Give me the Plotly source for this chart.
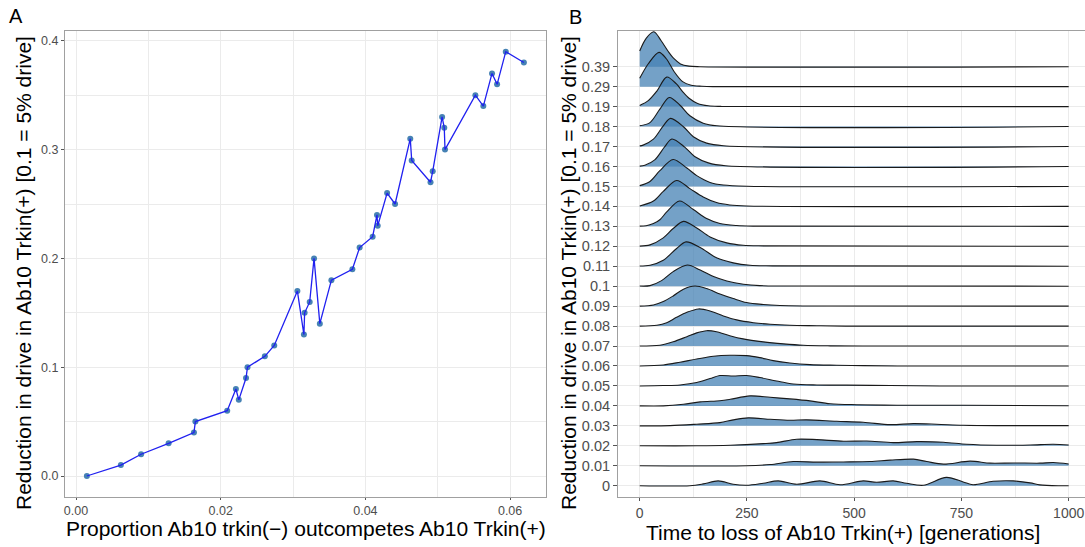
import plotly.graph_objects as go

# ---------------- Panel A data ----------------
prop_outcompete = [0.0015, 0.0062, 0.0090, 0.0128, 0.0163, 0.0165, 0.0209, 0.0221, 0.0225, 0.0235,
                   0.0237, 0.0261, 0.0274, 0.0306, 0.0315, 0.0316, 0.0323, 0.0329, 0.0337, 0.0353,
                   0.0382, 0.0392, 0.0410, 0.0416, 0.0417, 0.0430, 0.0441, 0.0462, 0.0464, 0.0490,
                   0.0493, 0.0506, 0.0509, 0.0510, 0.0552, 0.0563, 0.0575, 0.0582, 0.0594, 0.0619]
drive_reduction = [0.00, 0.01, 0.02, 0.03, 0.04, 0.05, 0.06, 0.08, 0.07, 0.09,
                   0.10, 0.11, 0.12, 0.17, 0.13, 0.15, 0.16, 0.20, 0.14, 0.18,
                   0.19, 0.21, 0.22, 0.24, 0.23, 0.26, 0.25, 0.31, 0.29, 0.27,
                   0.28, 0.33, 0.32, 0.30, 0.35, 0.34, 0.37, 0.36, 0.39, 0.38]
a_xticks = [0.00, 0.02, 0.04, 0.06]
a_xticklabels = ["0.00", "0.02", "0.04", "0.06"]
a_yticks = [0.0, 0.1, 0.2, 0.3, 0.4]
a_yticklabels = ["0.0", "0.1", "0.2", "0.3", "0.4"]

# ---------------- Panel B data (ridgelines, heights in ridge-spacing units) ----------------
ridge_labels = ["0", "0.01", "0.02", "0.03", "0.04", "0.05", "0.06", "0.07", "0.08", "0.09", "0.1",
                "0.11", "0.12", "0.13", "0.14", "0.15", "0.16", "0.17", "0.18", "0.19", "0.29", "0.39"]

ridge_time = {
    "0.39": [0, 15, 33, 50, 67, 80, 95, 115, 140, 1000],
    "0.29": [0, 20, 45, 62, 80, 100, 120, 145, 170, 1000],
    "0.19": [0, 20, 40, 63, 85, 100, 115, 135, 160, 190, 1000],
    "0.18": [0, 24, 47, 69, 94, 117, 148, 180, 1000],
    "0.17": [0, 8, 32, 55, 72, 102, 125, 156, 195, 1000],
    "0.16": [0, 12, 35, 58, 75, 105, 128, 160, 200, 1000],
    "0.15": [0, 24, 47, 78, 110, 133, 164, 195, 250, 1000],
    "0.14": [0, 32, 55, 86, 117, 148, 179, 210, 250, 1000],
    "0.13": [0, 15, 32, 47, 63, 93, 125, 156, 187, 226, 270, 1000],
    "0.12": [0, 24, 55, 78, 102, 133, 164, 203, 241, 290, 1000],
    "0.11": [0, 24, 55, 86, 108, 141, 179, 218, 257, 310, 1000],
    "0.1": [0, 24, 51, 78, 111, 141, 172, 203, 242, 280, 330, 1000],
    "0.09": [0, 32, 55, 78, 102, 129, 156, 187, 218, 249, 288, 327, 380, 1000],
    "0.08": [0, 40, 63, 86, 110, 137, 164, 195, 226, 265, 304, 350, 413, 480, 1000],
    "0.07": [0, 47, 78, 110, 133, 156, 179, 210, 241, 288, 335, 381, 444, 520, 1000],
    "0.06": [0, 55, 94, 133, 172, 210, 249, 280, 311, 350, 397, 459, 521, 600, 1000],
    "0.05": [0, 55, 94, 133, 164, 187, 218, 249, 280, 319, 358, 413, 482, 584, 700, 1000],
    "0.04": [0, 55, 102, 141, 187, 211, 257, 304, 350, 397, 444, 506, 600, 755, 1000],
    "0.03": [0, 71, 133, 187, 218, 253, 304, 350, 389, 459, 521, 584, 638, 692, 754, 832, 1000],
    "0.02": [0, 133, 211, 288, 319, 366, 413, 475, 529, 591, 646, 708, 762, 832, 910, 964, 1000],
    "0.01": [0, 249, 304, 358, 413, 475, 537, 584, 638, 669, 708, 770, 817, 871, 933, 964, 1000],
    "0": [0, 117, 148, 183, 218, 249, 288, 323, 366, 420, 467, 521, 552, 591, 622, 661, 715, 754,
          777, 824, 871, 910, 933, 980, 1000],
}
ridge_density = {
    "0.39": [0.79, 1.42, 1.75, 1.30, 0.75, 0.40, 0.14, 0.03, 0, 0],
    "0.29": [0.42, 1.15, 1.72, 1.40, 0.76, 0.25, 0.07, 0.02, 0, 0],
    "0.19": [0.06, 0.30, 0.78, 1.48, 1.15, 0.75, 0.42, 0.16, 0.04, 0.01, 0],
    "0.18": [0.04, 0.20, 0.87, 1.46, 1.07, 0.54, 0.17, 0.04, 0],
    "0.17": [0.03, 0.07, 0.37, 1.04, 1.41, 0.99, 0.49, 0.17, 0.04, 0],
    "0.16": [0.02, 0.06, 0.33, 0.98, 1.38, 0.97, 0.50, 0.18, 0.04, 0],
    "0.15": [0.04, 0.25, 0.79, 1.35, 0.92, 0.54, 0.20, 0.07, 0.01, 0],
    "0.14": [0.02, 0.27, 0.75, 1.30, 0.89, 0.47, 0.19, 0.07, 0.02, 0],
    "0.13": [0.01, 0.03, 0.14, 0.33, 0.72, 1.27, 0.84, 0.39, 0.14, 0.04, 0.01, 0],
    "0.12": [0.01, 0.07, 0.42, 0.89, 1.25, 0.92, 0.47, 0.17, 0.05, 0.02, 0],
    "0.11": [0.01, 0.05, 0.30, 0.89, 1.22, 0.94, 0.42, 0.17, 0.05, 0.02, 0],
    "0.1": [0.01, 0.03, 0.28, 0.73, 1.06, 0.81, 0.48, 0.26, 0.10, 0.03, 0.01, 0],
    "0.09": [0, 0.06, 0.23, 0.51, 0.85, 1.01, 0.88, 0.61, 0.38, 0.18, 0.08, 0.03, 0.01, 0],
    "0.08": [0, 0.04, 0.17, 0.44, 0.69, 0.86, 0.76, 0.51, 0.31, 0.17, 0.09, 0.04, 0.02, 0, 0],
    "0.07": [0, 0.04, 0.21, 0.47, 0.66, 0.77, 0.72, 0.52, 0.36, 0.21, 0.11, 0.04, 0.01, 0, 0],
    "0.06": [0, 0.05, 0.19, 0.35, 0.49, 0.54, 0.52, 0.42, 0.27, 0.15, 0.07, 0.04, 0.02, 0, 0],
    "0.05": [0, 0.02, 0.05, 0.17, 0.37, 0.52, 0.50, 0.52, 0.42, 0.25, 0.10, 0.05, 0.04, 0.02, 0, 0],
    "0.04": [0, 0, 0.08, 0.20, 0.26, 0.33, 0.50, 0.43, 0.35, 0.25, 0.11, 0.06, 0.03, 0.03, 0.01],
    "0.03": [0, 0.01, 0.08, 0.16, 0.30, 0.40, 0.33, 0.28, 0.30, 0.23, 0.18, 0.06, 0.11, 0.08, 0.03, 0.01, 0.01],
    "0.02": [0, 0, 0.03, 0.11, 0.16, 0.33, 0.31, 0.23, 0.24, 0.16, 0.21, 0.18, 0.08, 0.03, 0.04, 0.08, 0.04],
    "0.01": [0, 0, 0.06, 0.21, 0.18, 0.19, 0.21, 0.28, 0.33, 0.21, 0.08, 0.23, 0.13, 0.14, 0.13, 0.16, 0.09],
    "0": [0, 0, 0.09, 0.24, 0.07, 0.02, 0.12, 0.24, 0.07, 0.24, 0.05, 0.24, 0.17, 0.24, 0.12, 0.02,
          0.42, 0.19, 0.05, 0.22, 0.24, 0.14, 0.04, 0, 0],
}
b_xticks = [0, 250, 500, 750, 1000]

# ---------------- Figure ----------------
W, H = 1085, 547
FONT = "Liberation Sans, Arial, Helvetica, sans-serif"
GRID = "#ebebeb"
BORDER = "#a0a0a0"
TICKC = "#4d4d4d"
RIDGE_FILL = "rgba(70,130,180,0.75)"

fig = go.Figure()

# Panel A
fig.add_trace(go.Scatter(x=prop_outcompete, y=drive_reduction, mode="markers",
                         marker=dict(color="#4682b4", size=6), xaxis="x", yaxis="y",
                         showlegend=False, hoverinfo="skip"))
fig.add_trace(go.Scatter(x=prop_outcompete, y=drive_reduction, mode="lines",
                         line=dict(color="#2020f0", width=1.3), xaxis="x", yaxis="y",
                         showlegend=False))

# Panel B ridgelines, drawn from top to bottom so lower ridges sit in front
for idx in range(len(ridge_labels) - 1, -1, -1):
    lab = ridge_labels[idx]
    xs = ridge_time[lab]
    ys = [idx + d for d in ridge_density[lab]]
    fig.add_trace(go.Scatter(x=[xs[0], xs[-1]], y=[idx, idx], mode="lines",
                             line=dict(width=0, color="rgba(0,0,0,0)"), xaxis="x2", yaxis="y2",
                             showlegend=False, hoverinfo="skip"))
    fig.add_trace(go.Scatter(x=xs, y=ys, mode="lines", fill="tonexty", fillcolor=RIDGE_FILL,
                             line=dict(color="#1a1a1a", width=1.1, shape="spline", smoothing=0.9),
                             xaxis="x2", yaxis="y2", showlegend=False, name=lab))

ydom = [1 - 497 / H, 1 - 31 / H]


def axis_style(ticklen):
    return dict(showgrid=True, gridcolor=GRID, gridwidth=1, zeroline=False,
                showline=True, linecolor=BORDER, linewidth=1,
                ticks="outside", ticklen=ticklen, tickcolor="#555555", tickwidth=1,
                ticklabeloverflow="allow")


fig.update_layout(
    width=W, height=H,
    margin=dict(l=0, r=0, t=0, b=0),
    paper_bgcolor="white", plot_bgcolor="white",
    font=dict(family=FONT, color="black"),
    xaxis=dict(domain=[65 / W, 546 / W], range=[-0.00152, 0.06496], anchor="y",
               tickvals=a_xticks, ticktext=a_xticklabels, mirror=True,
               tickfont=dict(size=12.5, color=TICKC),
               minor=dict(dtick=0.01, tick0=0, showgrid=True, gridcolor=GRID, gridwidth=0.6, ticks=""),
               **axis_style(2)),
    yaxis=dict(domain=ydom, range=[-0.0193, 0.409], anchor="x",
               tickvals=a_yticks, ticktext=a_yticklabels, mirror=True,
               tickfont=dict(size=12.5, color=TICKC),
               minor=dict(dtick=0.05, tick0=0, showgrid=True, gridcolor=GRID, gridwidth=0.6, ticks=""),
               **axis_style(3)),
    xaxis2=dict(domain=[618 / W, 1.0], range=[-50.6, 1038], anchor="y2",
                tickvals=b_xticks, ticktext=[str(v) for v in b_xticks], mirror=True,
                tickfont=dict(size=14, color=TICKC),
                minor=dict(dtick=125, tick0=0, showgrid=True, gridcolor=GRID, gridwidth=0.6, ticks=""),
                **axis_style(3)),
    yaxis2=dict(domain=ydom, range=[-0.566, 22.79], anchor="x2",
                tickvals=list(range(len(ridge_labels))), ticktext=ridge_labels, mirror=False,
                tickfont=dict(size=14.5, color=TICKC),
                **axis_style(4)),
)


def ann(text, px, py, size, angle=0):
    fig.add_annotation(text=text, x=px / W, y=1 - py / H, xref="paper", yref="paper",
                       showarrow=False, textangle=angle, xanchor="center", yanchor="middle",
                       font=dict(size=size, color="black", family=FONT))


ann("A", 16, 16, 20)
ann("B", 575, 17, 20)
ann("Reduction in drive in Ab10 Trkin(+) [0.1 = 5% drive]", 23, 273, 21, -90)
ann("Reduction in drive in Ab10 Trkin(+) [0.1 = 5% drive]", 568, 273, 21, -90)
ann("Proportion Ab10 trkin(\u2212) outcompetes Ab10 Trkin(+)", 306, 528, 21)
ann("Time to loss of Ab10 Trkin(+) [generations]", 843, 532, 21)

fig.write_html("out.html")
